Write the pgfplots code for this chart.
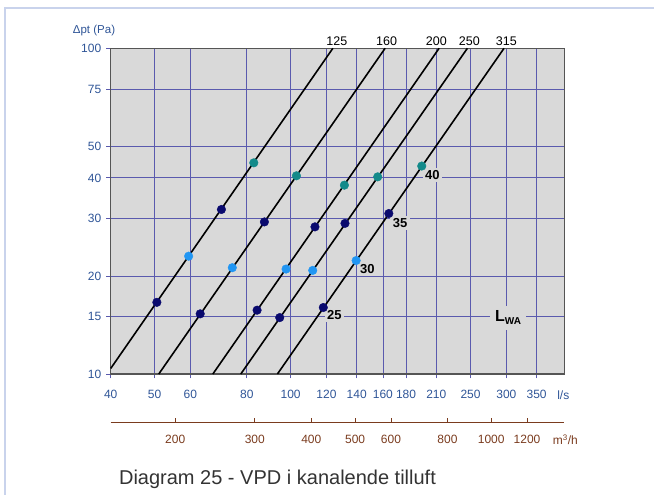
\documentclass[border=0pt]{standalone}
\usepackage{pgfplots}
\pgfplotsset{compat=1.18}
\usepackage{fontspec}
\setmainfont{Liberation Sans}
\definecolor{bggray}{HTML}{D9D9D9}
\definecolor{gridblue}{HTML}{5A5AAE}
\definecolor{ticktext}{HTML}{2F5597}
\definecolor{navydot}{HTML}{0A0A6E}
\definecolor{tealdot}{HTML}{138A8A}
\definecolor{lightdot}{HTML}{2196F3}
\definecolor{brownax}{HTML}{7A3B1E}
\definecolor{framebl}{HTML}{C9D3EC}
\definecolor{axframe}{HTML}{555555}
\definecolor{titlegray}{HTML}{333333}
\begin{document}
\begin{tikzpicture}[x=1pt,y=1pt]
\useasboundingbox (0,0) rectangle (654,495);
\draw[framebl, line width=2pt] (5,0) -- (5,487) -- (654,487);
\begin{axis}[
  at={(110.7pt,121pt)}, anchor=south west,
  scale only axis, width=453.6pt, height=325.7pt,
  xmode=log, ymode=log,
  xmin=40, xmax=403, ymin=10, ymax=100,
  axis background/.style={fill=bggray},
  axis line style={axframe, line width=1.1pt},
  grid=major,
  major grid style={gridblue, line width=0.8pt},
  xtick={40,50,60,80,100,120,140,160,180,210,250,300,350},
  xticklabels={40,50,60,80,100,120,140,160,180,210,250,300,350},
  ytick={10,15,20,30,40,50,75,100},
  yticklabels={10,15,20,30,40,50,75,100},
  minor tick num=0,
  tick align=outside,
  major tick length=4.5pt,
  tick style={gridblue, line width=0.8pt},
  xtick pos=bottom, ytick pos=left,
  tick label style={font=\fontsize{12}{14}\selectfont, text=ticktext},
  xticklabel style={yshift=-8.5pt},
  yticklabel style={xshift=-1.5pt},
  clip=false,
]
\addplot[black, line width=1.6pt] coordinates {(40,10.4) (124,100)};
\addplot[black, line width=1.6pt] coordinates {(51.1,10) (161.8,100)};
\addplot[black, line width=1.6pt] coordinates {(67.3,10) (213,100)};
\addplot[black, line width=1.6pt] coordinates {(77.6,10) (246,100)};
\addplot[black, line width=1.6pt] coordinates {(93.5,10) (296.5,100)};
\addplot[only marks, mark=*, mark size=4.3pt, mark options={draw=tealdot, fill=tealdot}] coordinates {
 (82.9,44.5) (103,40.6) (131.5,38.0) (155.8,40.3) (195,43.5)};
\addplot[only marks, mark=*, mark size=4.3pt, mark options={draw=navydot, fill=navydot}] coordinates {
 (70.3,32.0) (50.6,16.6) (87.5,29.3) (63.1,15.3) (113.2,28.3) (84.3,15.7)
 (131.9,29.0) (94.6,14.9) (164.9,31.1) (118.1,16.0)};
\addplot[only marks, mark=*, mark size=4.3pt, mark options={draw=lightdot, fill=lightdot}] coordinates {
 (59.5,23.0) (74.3,21.2) (97.7,21.0) (111.9,20.8) (139.6,22.3)};
% diameter labels
\node[anchor=base, font=\fontsize{12.5}{14}\selectfont] at (axis cs:126.5,100) [yshift=3pt] {125};
\node[anchor=base, font=\fontsize{12.5}{14}\selectfont] at (axis cs:163,100) [yshift=3pt] {160};
\node[anchor=base, font=\fontsize{12.5}{14}\selectfont] at (axis cs:210,100) [yshift=3pt] {200};
\node[anchor=base, font=\fontsize{12.5}{14}\selectfont] at (axis cs:248.5,100) [yshift=3pt] {250};
\node[anchor=base, font=\fontsize{12.5}{14}\selectfont] at (axis cs:300,100) [yshift=3pt] {315};
% sound level labels
\node[fill=bggray, inner sep=2.5pt, font=\bfseries\fontsize{13}{15}\selectfont] at (axis cs:205.8,40.8) {40};
\node[fill=bggray, inner sep=2.5pt, font=\bfseries\fontsize{13}{15}\selectfont] at (axis cs:174.6,29.1) {35};
\node[fill=bggray, inner sep=2.5pt, font=\bfseries\fontsize{13}{15}\selectfont] at (axis cs:147.8,21.0) {30};
\node[fill=bggray, inner sep=2.5pt, font=\bfseries\fontsize{13}{15}\selectfont] at (axis cs:125,15.2) {25};
\node[fill=bggray, inner xsep=5pt, inner ysep=5pt, font=\bfseries\fontsize{16}{18}\selectfont] at (axis cs:302.7,14.9) {L\raisebox{-0.35ex}{\fontsize{10}{11}\selectfont WA}};
% axis labels
\node[text=ticktext, font=\fontsize{11.5}{13}\selectfont] at (rel axis cs:0,1) [xshift=-16.7pt, yshift=17.3pt] {Δpt (Pa)};
\node[text=ticktext, font=\fontsize{12}{14}\selectfont, anchor=base] at (rel axis cs:1,0) [xshift=-1pt, yshift=-26pt] {l/s};
\end{axis}
\begin{axis}[
  at={(110.7pt,72.3pt)}, anchor=south west,
  scale only axis, width=453.6pt, height=10pt,
  xmode=log, xmin=40, xmax=403, ymin=0, ymax=1,
  axis x line*=bottom, axis y line=none,
  axis line style={brownax, line width=1pt},
  xtick={55.556,83.333,111.111,138.889,166.667,222.222,277.778,333.333},
  xticklabels={200,300,400,500,600,800,1000,1200},
  minor tick num=0,
  tick align=inside,
  major tick length=4.5pt,
  tick style={brownax, line width=0.8pt},
  tick label style={font=\fontsize{12}{14}\selectfont, text=brownax},
  xticklabel style={yshift=-9pt},
  clip=false,
]
\node[text=brownax, font=\fontsize{12}{14}\selectfont, anchor=base] at (rel axis cs:1,0) [xshift=1pt, yshift=-22pt] {m\textsuperscript{3}/h};
\end{axis}
\node[text=titlegray, font=\fontsize{20}{24}\selectfont] at (277.5,15.5) {Diagram 25 - VPD i kanalende tilluft};
\end{tikzpicture}
\end{document}
